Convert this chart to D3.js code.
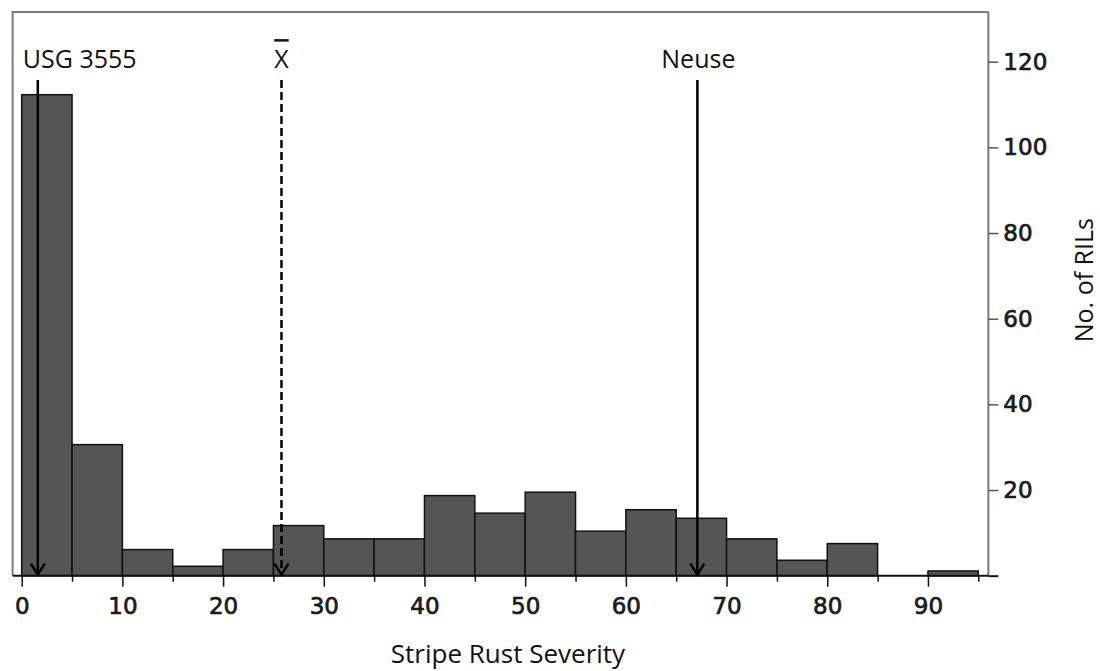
<!DOCTYPE html>
<html>
<head>
<meta charset="utf-8">
<script src="https://cdn.jsdelivr.net/npm/d3@7"></script>
<style>
  body { margin: 0; background: #fff; }
  .lbl { font-family: "Open Sans", sans-serif; font-size: 25px; fill: #111; }
  .tick text { font-family: "DejaVu Sans", sans-serif; font-size: 23px; fill: #1a1a1a; stroke: #1a1a1a; stroke-width: 0.7px; }
</style>
</head>
<body>
<script>
// histogram bins (lower edge, width 5) and heights
const binStarts = [0, 5, 10, 15, 20, 25, 30, 35, 40, 45, 50, 55, 60, 65, 70, 75, 80, 85, 90];
const binCounts = [112.3, 30.6, 6.1, 2.2, 6.1, 11.7, 8.6, 8.6, 18.7, 14.6, 19.5, 10.4, 15.4, 13.4, 8.6, 3.6, 7.5, 0, 1.1];
const binWidth = 5;

const xTickValues = [0, 5, 10, 15, 20, 25, 30, 35, 40, 45, 50, 55, 60, 65, 70, 75, 80, 85, 90, 95];
const yTickValues = [0, 20, 40, 60, 80, 100, 120];

// parents and mean, marked by arrows
const markerLabels = ["USG 3555", "X", "Neuse"];
const markerValues = [1.6, 25.8, 67.1];
const markerDashed = [false, true, false];

const width = 1100, height = 671;

const svg = d3.select("body").append("svg")
  .attr("width", width)
  .attr("height", height);

const x = d3.scaleLinear().domain([0, 95]).range([21.7, 978.3]);
const y = d3.scaleLinear().domain([0, 120]).range([575.7, 61.7]);

const plotL = x(-0.9), plotR = x(96), plotT = y(131.6), base = y(0);

// frame (top + left), grey like the original
svg.append("path")
  .attr("d", `M${plotL},${base}V${plotT}H${plotR}`)
  .attr("fill", "none")
  .attr("stroke", "#7a7a7a")
  .attr("stroke-width", 2);

// bars
svg.append("g")
  .selectAll("rect")
  .data(binStarts.map((s, i) => ({ s, n: binCounts[i] })).filter(d => d.n > 0))
  .join("rect")
  .attr("x", d => x(d.s))
  .attr("width", d => x(d.s + binWidth) - x(d.s))
  .attr("y", d => y(d.n))
  .attr("height", d => base - y(d.n))
  .attr("fill", "#555555")
  .attr("stroke", "#111")
  .attr("stroke-width", 1.5);

// right y axis
const yAxis = svg.append("g")
  .attr("transform", `translate(${plotR},0)`)
  .call(d3.axisRight(y).tickValues(yTickValues).tickSize(10).tickPadding(5)
    .tickFormat(d => d === 0 ? "" : d));
yAxis.select(".domain").attr("d", `M0,${base}V${plotT}`).attr("stroke", "#7a7a7a").attr("stroke-width", 2);
yAxis.selectAll(".tick line").attr("stroke", "#555").attr("stroke-width", 1.5);
yAxis.selectAll(".tick").filter(d => d === 0).select("line").attr("stroke", "#111").attr("stroke-width", 2);

// bottom x axis
const xAxis = svg.append("g")
  .attr("transform", `translate(0,${base})`)
  .call(d3.axisBottom(x).tickValues(xTickValues).tickSize(10).tickPadding(12)
    .tickFormat(d => d % 10 === 0 ? d : ""));
xAxis.select(".domain").remove();
xAxis.selectAll(".tick line")
  .attr("y2", d => d % 10 === 0 ? 11 : 6)
  .attr("stroke", "#111")
  .attr("stroke-width", 1.5);

svg.append("line")
  .attr("x1", plotL).attr("x2", plotR)
  .attr("y1", base).attr("y2", base)
  .attr("stroke", "#111")
  .attr("stroke-width", 2);

// arrows
const arrowTop = y(115.7);
markerValues.forEach((v, i) => {
  const ax = x(v);
  const g = svg.append("g");
  g.append("line")
    .attr("x1", ax).attr("x2", ax)
    .attr("y1", arrowTop).attr("y2", base - 1)
    .attr("stroke", "#000")
    .attr("stroke-width", 2.5)
    .attr("stroke-dasharray", markerDashed[i] ? "8,4" : null);
  g.append("path")
    .attr("d", `M${ax - 7},${base - 12}L${ax},${base - 1}L${ax + 7},${base - 12}`)
    .attr("fill", "none")
    .attr("stroke", "#000")
    .attr("stroke-width", 2.5);
});

// arrow labels
svg.append("text").attr("class", "lbl")
  .attr("x", x(markerValues[0]) - 15).attr("y", arrowTop - 12)
  .text(markerLabels[0]);
svg.append("text").attr("class", "lbl")
  .attr("x", x(markerValues[1])).attr("y", arrowTop - 12)
  .attr("text-anchor", "middle")
  .style("text-decoration", "overline")
  .text(markerLabels[1]);
svg.append("text").attr("class", "lbl")
  .attr("x", x(markerValues[2]) + 1).attr("y", arrowTop - 12)
  .attr("text-anchor", "middle")
  .text(markerLabels[2]);

// axis titles
svg.append("text").attr("class", "lbl")
  .attr("x", (x(0) + x(95)) / 2 + 8).attr("y", 663)
  .attr("text-anchor", "middle")
  .style("font-size", "26px")
  .text("Stripe Rust Severity");

svg.append("text").attr("class", "lbl")
  .attr("transform", `translate(1093,${y(69)}) rotate(-90)`)
  .attr("text-anchor", "middle")
  .text("No. of RILs");
</script>
</body>
</html>
